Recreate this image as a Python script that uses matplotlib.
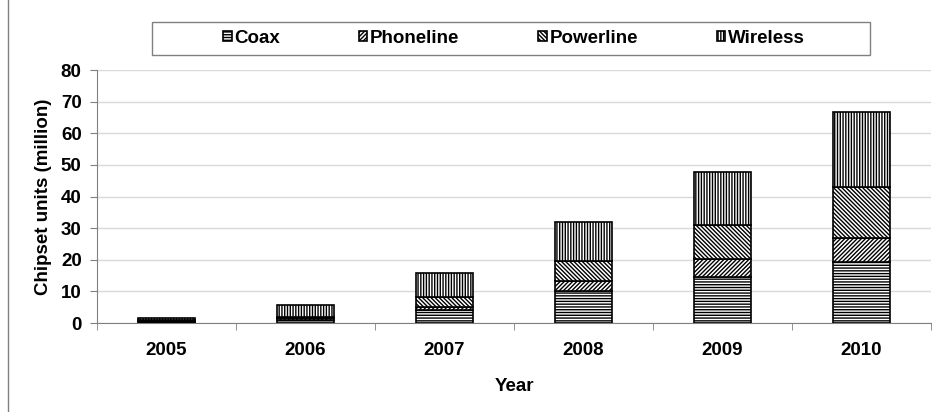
import matplotlib.pyplot as plt
from matplotlib.patches import Rectangle
import numpy as np

plt.rcParams["font.family"] = ["Liberation Sans", "DejaVu Sans"]
plt.rcParams["font.weight"] = "bold"
plt.rcParams["hatch.linewidth"] = 1.0

years = ["2005", "2006", "2007", "2008", "2009", "2010"]
coax = [0.3, 1.0, 4.0, 10.1, 14.6, 19.2]
phoneline = [0.4, 0.5, 1.1, 3.2, 5.6, 7.8]
powerline = [0.2, 0.4, 3.1, 6.3, 10.8, 15.9]
wireless = [0.8, 3.9, 7.6, 12.5, 16.9, 23.9]

series = [
    ("Coax", coax, "------"),
    ("Phoneline", phoneline, "////////"),
    ("Powerline", powerline, "\\\\\\\\\\\\\\\\"),
    ("Wireless", wireless, "||||||"),
]

fig = plt.figure(figsize=(9.32, 4.12), dpi=100)
ax = fig.add_axes([0.104, 0.216, 0.895, 0.614])

x = np.arange(len(years))
bottom = np.zeros(len(years))
handles = []
for name, vals, hatch in series:
    b = ax.bar(x, vals, 0.41, bottom=bottom, color="white", edgecolor="black",
               linewidth=1.2, hatch=hatch, label=name, zorder=3)
    handles.append(b)
    bottom += np.array(vals)

ax.set_xlim(-0.5, len(years) - 0.5)
ax.set_ylim(0, 80)
ax.set_yticks(range(0, 81, 10))
ax.set_xticks(x)
ax.set_xticklabels(years)
ax.set_xticks(np.arange(-0.5, len(years), 1.0), minor=True)
ax.tick_params(axis="x", which="major", length=0, pad=14, labelsize=13.5)
ax.tick_params(axis="x", which="minor", length=5, color="#808080", direction="out")
ax.tick_params(axis="y", length=5, color="#808080", labelsize=13.5, pad=6)
ax.grid(axis="y", color="#d9d9d9", linewidth=1, zorder=0)

for side in ["top", "right"]:
    ax.spines[side].set_visible(False)
ax.spines["left"].set_color("#808080")
ax.spines["bottom"].set_color("#808080")

ax.set_xlabel("Year", fontsize=13.5, fontweight="bold", labelpad=13)
ax.set_ylabel("Chipset units (million)", fontsize=13.5, fontweight="bold", labelpad=6)

# legend box drawn separately so the entries can sit centred inside it
fig.add_artist(Rectangle((152 / 932, 1 - 55 / 412), 718 / 932, 33 / 412,
                         transform=fig.transFigure, facecolor="white",
                         edgecolor="#808080", linewidth=1))
leg = fig.legend(handles=handles, loc="center", ncol=4,
                 bbox_to_anchor=(514 / 932, 1 - 38.5 / 412), fontsize=13.5,
                 handlelength=0.45, handleheight=0.45, handletextpad=0.15,
                 columnspacing=4.2, frameon=False)

# frame line on the left edge
fig.add_artist(plt.Line2D([0.009, 0.009], [0.0, 1.0], color="#808080", linewidth=1,
                          transform=fig.transFigure))

fig.savefig("out.png", dpi=100)
